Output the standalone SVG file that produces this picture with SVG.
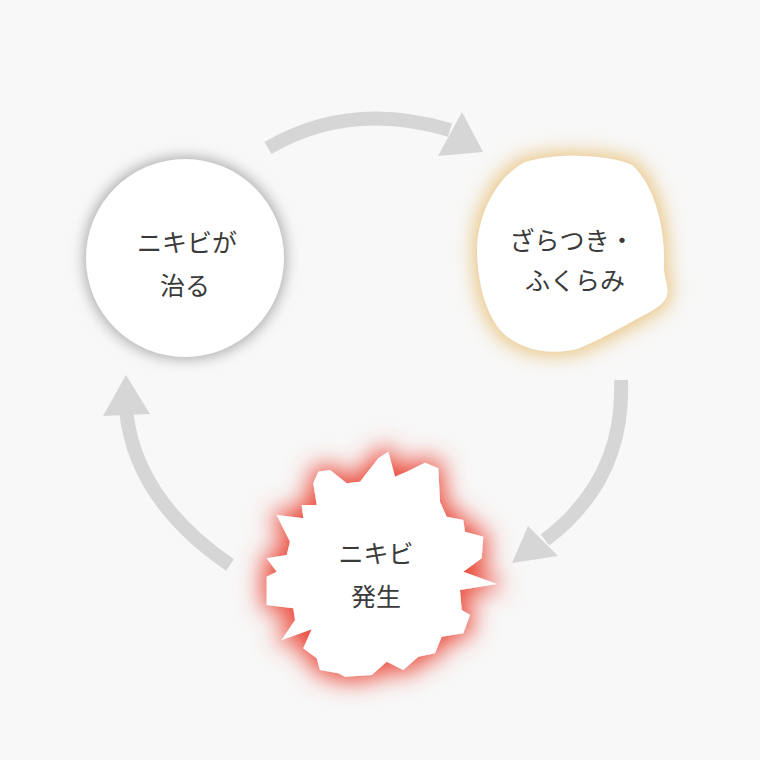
<svg xmlns="http://www.w3.org/2000/svg" width="760" height="760" viewBox="0 0 760 760">
<style>
.t{font-family:"Noto Sans CJK JP","Noto Sans",sans-serif;font-size:25px;font-weight:400;fill:#3a3a3a;text-anchor:middle}
.c{fill:none;stroke:#d6d6d6;stroke-width:14}
.h{fill:#d6d6d6}
</style>
<defs>
<filter id="gs" x="-40%" y="-40%" width="180%" height="180%"><feMorphology in="SourceAlpha" operator="dilate" radius="2" result="d"/><feGaussianBlur in="d" stdDeviation="7" result="b"/><feFlood flood-color="#aaa"/><feComposite in2="b" operator="in"/><feMerge><feMergeNode/><feMergeNode in="SourceGraphic"/></feMerge></filter>
<filter id="ys" x="-40%" y="-40%" width="180%" height="180%"><feMorphology in="SourceAlpha" operator="dilate" radius="3" result="d"/><feGaussianBlur in="d" stdDeviation="10" result="b"/><feFlood flood-color="#e8c27c"/><feComposite in2="b" operator="in"/><feMerge><feMergeNode/><feMergeNode in="SourceGraphic"/></feMerge></filter>
<filter id="rs" x="-40%" y="-40%" width="180%" height="180%"><feMorphology in="SourceAlpha" operator="dilate" radius="4" result="d"/><feGaussianBlur in="d" stdDeviation="12" result="b"/><feFlood flood-color="#ea4636"/><feComposite in2="b" operator="in"/><feMerge><feMergeNode/><feMergeNode in="SourceGraphic"/></feMerge></filter>
</defs>
<rect width="760" height="760" fill="#f8f8f8"/>
<g id="connectors">
<path class="c" d="M268,148 Q350,100 450,130"/>
<polygon class="h" points="483,152 438,156 462,112"/>
<path class="c" d="M621,380 Q625,480 545,540"/>
<polygon class="h" points="512,563 528,526 558,556"/>
<path class="c" d="M230,565 Q135,500 126,410"/>
<polygon class="h" points="126,375 103,416 150,414"/>
</g>
<g id="n1">
<circle cx="185" cy="258" r="99" fill="#fff" filter="url(#gs)"/>
<text class="t" x="187" y="252">ニキビが</text>
<text class="t" x="185" y="295">治る</text>
</g>
<g id="n2">
<path fill="#fff" filter="url(#ys)" d="M525,162 C560,152 610,155 632,165 C655,185 665,230 664,262 C662,285 680,295 650,312 C625,325 610,335 580,348 C555,356 520,352 500,330 C485,310 478,285 477,250 C478,215 495,178 525,162 Z"/>
<text class="t" x="572" y="250">ざらつき・</text>
<text class="t" x="575" y="290">ふくらみ</text>
</g>
<g id="n3">
<polygon fill="#fff" filter="url(#rs)" points="318.3,471.7 330,470 346.7,483.3 360,481.7 378.3,458.3 388.3,451.7 395,476.7 406.7,471.7 425,462.7 438.3,468.3 440,501.7 446.7,516.7 463.3,520 465,531.7 483.3,536.7 481.7,558.3 463.3,571.7 496.7,584 460,590 461.7,610 470,615 463.3,633.3 441.7,636.7 435,653.3 418.3,656.7 403.3,670 386.7,661.7 371.7,675 345,676.7 338.3,673.3 320,670 316.7,658.3 303.3,648.3 311.7,629.3 281.7,640 295,620 293.3,608.3 266.7,605 266.7,576.7 276.7,571.7 266.7,558.3 286.7,555 290,541.7 276.7,515 303.3,518.3 301.7,505 316.7,505 313.3,483.3"/>
<text class="t" x="376" y="563">ニキビ</text>
<text class="t" x="376" y="606">発生</text>
</g>
</svg>
